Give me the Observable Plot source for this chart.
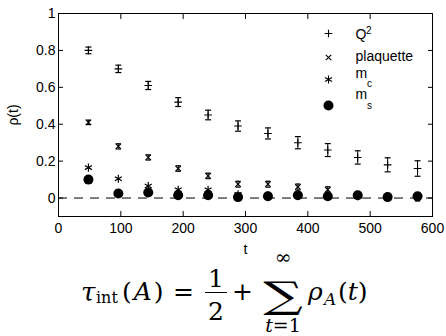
<!DOCTYPE html>
<html>
<head>
<meta charset="utf-8">
<script src="https://cdn.jsdelivr.net/npm/d3@7"></script>
<script src="https://cdn.jsdelivr.net/npm/@observablehq/plot@0.6"></script>
<style>
  html, body { margin: 0; padding: 0; background: #fff; }
  #wrap { position: relative; width: 446px; height: 336px; background: #fff; overflow: hidden; }
  #chart { position: absolute; left: 0; top: 0; }
  .math { position: absolute; left: 0; top: 252px; width: 446px; height: 84px;
          font-family: "DejaVu Serif", "Liberation Serif", serif; color: #000; }
  .math span { position: absolute; line-height: 1; white-space: nowrap; }
  .math .i { position: static; font-style: italic; }
  .m-tau  { left: 81px;  top: 26.9px; font-size: 26px; font-style: italic; }
  .m-int  { left: 96px;  top: 37.5px; font-size: 16px; }
  .m-A    { left: 122px; top: 26.9px; font-size: 25px; letter-spacing: 2px; }
  .m-eq   { left: 173px; top: 26.9px; font-size: 25px; }
  .m-one  { left: 216px; top: 13.9px; font-size: 25px; transform: translateX(-50%); }
  .m-bar  { left: 205px; top: 39.5px; width: 22px; height: 0; border-top: 1.4px solid #000; }
  .m-two  { left: 216px; top: 46.9px; font-size: 25px; transform: translateX(-50%); }
  .m-plus { left: 232px; top: 26.9px; font-size: 25px; }
  .m-inf  { left: 283px; top: -5.4px; font-size: 20px; transform: translateX(-50%); }
  .m-sig  { left: 283px; top: 25px; font-size: 37px; transform: translateX(-50%) scaleX(1.5); }
  .math .m-low { left: 283px; top: 63.5px; font-size: 19px; line-height: 0.85; transform: translateX(-50%); }
  .m-rho  { left: 308px; top: 26.9px; font-size: 25px; font-style: italic; }
  .m-subA { left: 324px; top: 38.6px; font-size: 17px; font-style: italic; }
  .m-t    { left: 338px; top: 26.9px; font-size: 25px; }
</style>
</head>
<body>
<div id="wrap">
  <div id="chart"></div>
  <div class="math">
    <span class="m-tau">τ</span><span class="m-int">int</span><span class="m-A">(<span class="i">A</span>)</span>
    <span class="m-eq">=</span>
    <span class="m-one">1</span><span class="m-bar"></span><span class="m-two">2</span>
    <span class="m-plus">+</span>
    <span class="m-inf">∞</span><span class="m-sig">∑</span><span class="m-low"><span class="i">t</span>=1</span>
    <span class="m-rho">ρ</span><span class="m-subA">A</span><span class="m-t">(<span class="i">t</span>)</span>
  </div>
</div>
<script>
// ---- data ----
const lag = [48, 96, 144, 192, 240, 288, 336, 384, 432, 480, 528, 576];
const q2 = [0.80, 0.70, 0.61, 0.52, 0.45, 0.39, 0.35, 0.30, 0.26, 0.22, 0.18, 0.16];
const q2Err = [0.018, 0.02, 0.022, 0.024, 0.026, 0.028, 0.03, 0.033, 0.035, 0.036, 0.038, 0.042];
const plaquette = [0.41, 0.28, 0.22, 0.16, 0.12, 0.075, 0.075, 0.06, 0.045, 0.015, 0.005, 0.0];
const plaquetteErr = [0.012, 0.014, 0.014, 0.015, 0.015, 0.016, 0.016, 0.016, 0.016, 0.016, 0.016, 0.016];
const mc = [0.165, 0.105, 0.065, 0.045, 0.045, 0.02, 0.015, 0.02, 0.01, 0.01, 0.005, 0.005];
const ms = [0.10, 0.025, 0.03, 0.015, 0.015, 0.005, 0.01, 0.015, 0.01, 0.015, 0.005, 0.01];
const xTicks = [0, 100, 200, 300, 400, 500, 600];
const yTicks = [0, 0.2, 0.4, 0.6, 0.8, 1];
const yTickLabels = ["0", "0.2", "0.4", "0.6", "0.8", "1"];
const legendNames = ["Q", "plaquette", "m", "m"];
const legendScripts = ["2", "", "c", "s"];

// ---- table built from arrays ----
const rows = (vals, errs) => lag.map((t, i) => ({t, v: vals[i], e: errs ? errs[i] : 0}));
const q2Rows = rows(q2, q2Err);
const plRows = rows(plaquette, plaquetteErr);
const mcRows = rows(mc);
const msRows = rows(ms);

const capSymbol = {
  draw(ctx, size) { const w = Math.sqrt(size / Math.PI); ctx.moveTo(-w, 0); ctx.lineTo(w, 0); }
};

function errMarks(data, capR) {
  return [
    Plot.ruleX(data, {x: "t", y1: d => d.v - d.e, y2: d => d.v + d.e, stroke: "black", strokeWidth: 1}),
    Plot.dot(data, {x: "t", y: d => d.v + d.e, symbol: capSymbol, r: capR, fill: "none", stroke: "black", strokeWidth: 1.2}),
    Plot.dot(data, {x: "t", y: d => d.v - d.e, symbol: capSymbol, r: capR, fill: "none", stroke: "black", strokeWidth: 1.2})
  ];
}

// legend (inside the frame, upper right)
const legendSymbols = ["plus", "times", "asterisk", "circle"];
const legendR = [2.6, 2.6, 3.8, 5];
const legendSymDy = [20, 44, 66, 92];
const legendTextDy = [21, 43, 60, 81];
const legendScriptDy = [17, 0, 70, 92];
const legendMarks = [];
legendSymbols.forEach((s, i) => {
  legendMarks.push(Plot.dot([legendNames[i]], {
    frameAnchor: "top-right", dx: -104, dy: legendSymDy[i], symbol: s, r: legendR[i],
    ...(s === "circle" ? {fill: "black", stroke: "none"} : {fill: "none", stroke: "black", strokeWidth: 1.1})
  }));
  legendMarks.push(Plot.text([legendNames[i]], {
    frameAnchor: "top-right", dx: -77, dy: legendTextDy[i], textAnchor: "start", lineAnchor: "middle", fontSize: 14, fill: "black"
  }));
  if (legendScripts[i]) {
    legendMarks.push(Plot.text([legendScripts[i]], {
      frameAnchor: "top-right", dx: i === 0 ? -66.5 : -65.5, dy: legendScriptDy[i], textAnchor: "start", lineAnchor: "middle", fontSize: 10, fill: "black"
    }));
  }
});

const tickFmtBlank = () => "";

const chart = Plot.plot({
  width: 446,
  height: 258,
  marginLeft: 58,
  marginRight: 14,
  marginTop: 13,
  marginBottom: 42,
  style: {fontFamily: "'Liberation Sans', Arial, sans-serif", fontSize: "14px", color: "black", background: "white", overflow: "visible"},
  x: {domain: [0, 600]},
  y: {domain: [-0.1, 1]},
  marks: [
    Plot.ruleY([0], {stroke: "black", strokeWidth: 1, strokeDasharray: "9,7"}),
    // labels
    Plot.axisX({ticks: xTicks, tickSize: 0, tickPadding: 7, label: "t", labelAnchor: "center", labelOffset: 37, labelArrow: "none", fontSize: 14}),
    Plot.axisY({ticks: yTicks, tickSize: 0, tickPadding: 3, tickFormat: (d, i) => yTickLabels[i], label: "ρ(t)", labelAnchor: "center", labelOffset: 50, labelArrow: "none", fontSize: 14}),
    // inward ticks on all four sides
    Plot.axisX({ticks: xTicks, tickSize: -5, tickFormat: tickFmtBlank, label: null}),
    Plot.axisX({anchor: "top", ticks: xTicks, tickSize: -5, tickFormat: tickFmtBlank, label: null}),
    Plot.axisY({ticks: yTicks, tickSize: -5, tickFormat: tickFmtBlank, label: null}),
    Plot.axisY({anchor: "right", ticks: yTicks, tickSize: -5, tickFormat: tickFmtBlank, label: null}),
    Plot.frame({stroke: "black", strokeWidth: 1}),
    // series
    ...errMarks(q2Rows, 3),
    Plot.dot(q2Rows, {x: "t", y: "v", symbol: "plus", r: 2.6, fill: "none", stroke: "black", strokeWidth: 1.1}),
    ...errMarks(plRows, 2.5),
    Plot.dot(plRows, {x: "t", y: "v", symbol: "times", r: 2.6, fill: "none", stroke: "black", strokeWidth: 1.1}),
    Plot.dot(mcRows, {x: "t", y: "v", symbol: "asterisk", r: 3.8, fill: "none", stroke: "black", strokeWidth: 1.2}),
    Plot.dot(msRows, {x: "t", y: "v", symbol: "circle", r: 5, fill: "black", stroke: "none"}),
    ...legendMarks
  ]
});
document.getElementById("chart").appendChild(chart);
</script>
</body>
</html>
